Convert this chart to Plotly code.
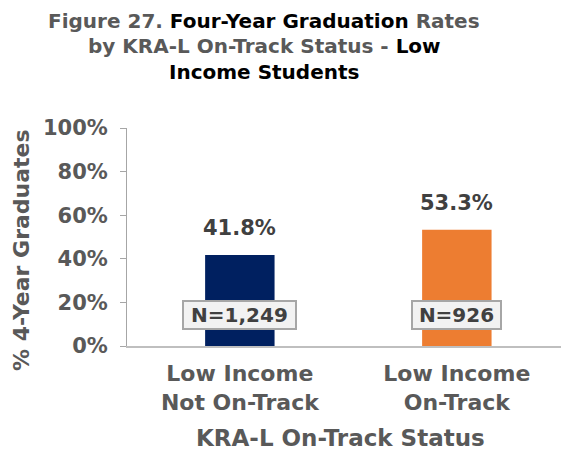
import plotly.graph_objects as go

categories = ["Low Income<br>Not On-Track", "Low Income<br>On-Track"]
rates = [41.8, 53.3]
n_labels = ["N=1,249", "N=926"]
bar_colors = ["#002060", "#ED7D31"]
y_ticks = [0, 20, 40, 60, 80, 100]
y_tick_text = ["0%", "20%", "40%", "60%", "80%", "100%"]
title_lines = [
    "<span style='color:#595959'>Figure 27. </span><span style='color:#000000'>Four-Year Graduation</span><span style='color:#595959'> Rates</span>",
    "<span style='color:#595959'>by KRA-L On-Track Status - </span><span style='color:#000000'>Low</span>",
    "<span style='color:#000000'>Income Students</span>",
]

FONT = "DejaVu Sans, Arial, sans-serif"
GRAY = "#595959"
DARK = "#404040"

fig = go.Figure()
fig.add_trace(go.Bar(
    x=[0, 1], y=rates, marker=dict(color=bar_colors, line=dict(width=0)),
    width=0.32, hoverinfo="skip",
))

annotations = []
for i, line in enumerate(title_lines):
    annotations.append(dict(
        text="<b>" + line + "</b>", xref="paper", yref="paper",
        x=(264 - 127) / 434, y=1 + (128 - (21 + 25.5 * i)) / 218,
        xanchor="center", yanchor="middle", showarrow=False,
        font=dict(family=FONT, size=20),
    ))
for i, v in enumerate(rates):
    annotations.append(dict(
        text="<b>%.1f%%</b>" % v, x=i, y=v, xref="x", yref="y",
        xanchor="center", yanchor="bottom", yshift=13, showarrow=False,
        font=dict(family=FONT, size=21, color=DARK),
    ))
box_widths = [109, 85]
for i, t in enumerate(n_labels):
    annotations.append(dict(
        text="<b>" + t + "</b>", x=i, y=(346 - 314.5) / 218, xref="x", yref="paper",
        xanchor="center", yanchor="middle", showarrow=False,
        font=dict(family=FONT, size=20, color=DARK),
        width=box_widths[i], height=24,
        bgcolor="#F2F2F2", bordercolor="#A6A6A6", borderwidth=2, borderpad=1,
    ))
annotations.append(dict(
    text="<b>% 4-Year Graduates</b>", xref="paper", yref="paper",
    x=(21 - 127) / 434, y=(346 - 250) / 218, textangle=-90,
    xanchor="center", yanchor="middle", showarrow=False,
    font=dict(family=FONT, size=22, color=GRAY),
))
annotations.append(dict(
    text="<b>KRA-L On-Track Status</b>", xref="paper", yref="paper",
    x=(340 - 127) / 434, y=-(438 - 346) / 218,
    xanchor="center", yanchor="middle", showarrow=False,
    font=dict(family=FONT, size=23, color=GRAY),
))

fig.update_layout(
    width=561, height=455,
    margin=dict(l=127, r=0, t=128, b=109, pad=0),
    paper_bgcolor="white", plot_bgcolor="white",
    showlegend=False,
    annotations=annotations,
    xaxis=dict(
        range=[-0.52, 1.48], tickmode="array", tickvals=[0, 1],
        ticktext=["<b>" + c + "</b>" for c in categories],
        showline=True, linecolor="#BFBFBF", linewidth=2,
        ticks="", showgrid=False, zeroline=False,
        tickfont=dict(family=FONT, size=22, color=GRAY),
        ticklabelstandoff=7,
    ),
    yaxis=dict(
        range=[0, 100], tickmode="array", tickvals=y_ticks,
        ticktext=["<b>" + t + "</b>" for t in y_tick_text],
        showline=True, linecolor="#A6A6A6", linewidth=1,
        ticks="outside", ticklen=6, tickcolor="#A6A6A6",
        showgrid=False, zeroline=False,
        tickfont=dict(family=FONT, size=21, color=GRAY),
        ticklabelstandoff=8,
    ),
)

fig.write_html("out.html", config={"displayModeBar": False},
               post_script="document.body.style.margin='0';")
